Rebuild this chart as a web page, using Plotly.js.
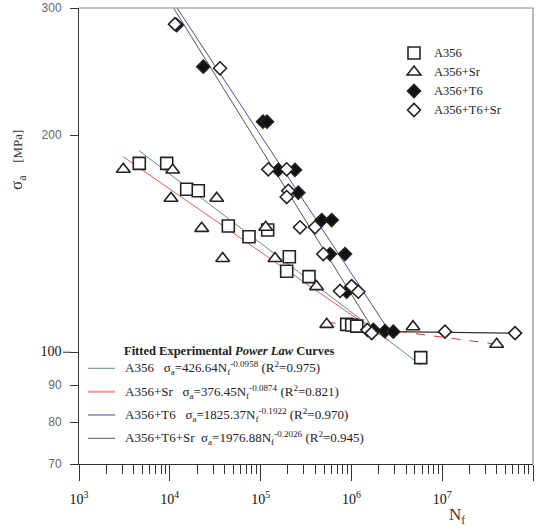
<!DOCTYPE html>
<html>
<head>
<meta charset="utf-8">
<script src="https://cdn.plot.ly/plotly-3.0.1.min.js"></script>
<style>html,body{margin:0;padding:0;background:#fff;}#chart{width:541px;height:532px;}</style>
</head>
<body>
<div id="chart"></div>
<script>
// ---- Data ----
// A356 (open squares)
const a356_N = [4612, 9244, 15350, 20600, 44100, 74520, 119700, 207100, 193800, 341200, 887700, 1008000, 1144000, 5800000];
const a356_S = [182.7, 182.7, 168.2, 167.4, 149.6, 144.6, 147.7, 135.6, 129.5, 127.3, 109.3, 109.1, 108.7, 98.3];
// A356+Sr (open triangles)
const sr_N = [3075, 10760, 10310, 32850, 22450, 113800, 38240, 144100, 412600, 534600, 4770000, 39800000];
const sr_S = [179.3, 178.9, 163.5, 163.5, 148.5, 149.0, 134.9, 134.9, 123.3, 109.3, 108.5, 102.6];
// A356+T6 (filled diamonds)
const t6_N = [11910, 23380, 106300, 117600, 156600, 239200, 260200, 470900, 606800, 581200, 850400, 887700, 1743000, 2344000, 2894000];
const t6_S = [284.1, 248.8, 208.7, 208.7, 178.9, 178.9, 166.4, 152.5, 152.5, 136.8, 136.8, 121.3, 107.4, 107.0, 106.8];
// A356+T6+Sr (open diamonds)
const t6sr_N = [11410, 35720, 121600, 193800, 201900, 193800, 271600, 397200, 490400, 748900, 1008000, 1191000, 1500000, 1673000, 10730000, 63400000];
const t6sr_S = [284.9, 247.5, 179.3, 179.3, 167.4, 164.1, 149.0, 149.0, 136.8, 121.6, 123.5, 121.3, 107.4, 106.3, 106.8, 106.3];

// Fitted power-law lines (end points)
const fitA356_N = [4612, 5800000];     const fitA356_S = [190.2, 96.0];
const fitSr_N = [3075, 2530000];       const fitSr_S = [186.6, 103.9];
const fitT6_N = [11000, 2660000];      const fitT6_S = [305.2, 106.6];
const fitT6Sr_N = [10000, 1600000];    const fitT6Sr_S = [305.9, 109.4];
// run-out lines
const runT6Sr_N = [2894000, 63400000]; const runT6Sr_S = [106.8, 106.3];
const runSr_N = [534600, 39800000];    const runSr_S = [110.1, 102.6];

const seriesNames = ["A356", "A356+Sr", "A356+T6", "A356+T6+Sr"];
const fitLabels = [
  "A356&nbsp;&nbsp;&nbsp;σ<sub>a</sub>=426.64N<sub>f</sub><sup>-0.0958</sup> (R<sup>2</sup>=0.975)",
  "A356+Sr&nbsp;&nbsp;&nbsp;σ<sub>a</sub>=376.45N<sub>f</sub><sup>-0.0874</sup> (R<sup>2</sup>=0.821)",
  "A356+T6&nbsp;&nbsp;&nbsp;σ<sub>a</sub>=1825.37N<sub>f</sub><sup>-0.1922</sup> (R<sup>2</sup>=0.970)",
  "A356+T6+Sr&nbsp;&nbsp;σ<sub>a</sub>=1976.88N<sub>f</sub><sup>-0.2026</sup> (R<sup>2</sup>=0.945)"
];
const yTickVals = [70, 80, 90, 100, 200, 300];
const yTickText = ["70", "80", "90", "<span style='font-family:Liberation Serif;color:#111;font-size:14px'>100</span>", "200", "300"];
const xTickVals = [1e3, 1e4, 1e5, 1e6, 1e7, 1e8];
const xTickText = ["10<sup>3</sup>", "10<sup>4</sup>", "10<sup>5</sup>", "10<sup>6</sup>", "10<sup>7</sup>", "10<sup>8</sup>"];

// ---- styles ----
const cGreen = "#5f8f70", cRed = "#ee5555", cBlue = "#4a4aa8", cGray = "#555555";
const serif = "Liberation Serif, Times New Roman, serif";

function line(N, S, color, width, dash) {
  return {x: N, y: S, type: "scatter", mode: "lines", showlegend: false, hoverinfo: "skip",
    line: {color: color, width: width, dash: dash || "solid"}};
}
function pts(N, S, name, symbol, fill, size) {
  return {x: N, y: S, type: "scatter", mode: "markers",
    name: "<span style='font-size:12.5px'>" + name + "</span>",
    marker: {symbol: symbol, size: size, color: fill, line: {color: "#222", width: 1.6}}};
}

const traces = [
  line(fitA356_N, fitA356_S, cGreen, 1),
  line(fitSr_N, fitSr_S, cRed, 1),
  line(fitT6_N, fitT6_S, cBlue, 1),
  line(fitT6Sr_N, fitT6Sr_S, cGray, 1),
  line(runT6Sr_N, runT6Sr_S, "#333", 1.2),
  line(runSr_N, runSr_S, "#e03030", 1, "dash"),
  pts(a356_N, a356_S, seriesNames[0], "square", "#fff", 12),
  pts(sr_N, sr_S, seriesNames[1], "triangle-up", "#fff", 12),
  pts(t6_N, t6_S, seriesNames[2], "diamond", "#111", 10),
  pts(t6sr_N, t6sr_S, seriesNames[3], "diamond", "#fff", 10)
];

const minorX = [];
for (let e = 3; e < 8; e++) for (let k = 2; k <= 9; k++) minorX.push(k * Math.pow(10, e));

const L = 79, T = 8, W = 454, H = 456;
const px = v => (v - L) / W, py = v => (T + H - v) / H;

const shapes = [
  {type: "line", xref: "paper", yref: "paper", x0: 0, x1: 1, y0: 1, y1: 1, line: {color: "#888", width: 1}},
  {type: "line", xref: "paper", yref: "paper", x0: 1, x1: 1, y0: 0, y1: 1, line: {color: "#777", width: 1}},
  // long tick at 100
  {type: "line", xref: "paper", yref: "y", x0: px(63), x1: px(71), y0: 100, y1: 100, line: {color: "#333", width: 1}}
];
const legColors = [cGreen, "#f4a0a0", cBlue, cGray];
const legW = [1, 2.2, 1, 1];
const rows = [368.3, 391.7, 415, 438.3];
const annotations = [
  {xref: "paper", yref: "paper", x: px(121.7), y: py(350.7), xanchor: "left", yanchor: "middle", showarrow: false,
   text: "<b>Fitted Experimental <i>Power Law</i> Curves</b>", font: {family: serif, size: 12.5, color: "#222"}},
  {xref: "paper", yref: "paper", x: px(18), y: py(160), xanchor: "center", yanchor: "middle", showarrow: false, textangle: -90,
   text: "σ<sub>a</sub>&nbsp;&nbsp;&nbsp;<span style='font-size:13px'>[MPa]</span>", font: {family: serif, size: 17, color: "#333"}},
  {xref: "paper", yref: "paper", x: px(457), y: py(516), xanchor: "center", yanchor: "middle", showarrow: false,
   text: "N<sub>f</sub>", font: {family: serif, size: 17, color: "#5a2a2a"}}
];
for (let i = 0; i < 4; i++) {
  shapes.push({type: "line", xref: "paper", yref: "paper", x0: px(88), x1: px(115), y0: py(rows[i]), y1: py(rows[i]),
    line: {color: legColors[i], width: legW[i]}});
  annotations.push({xref: "paper", yref: "paper", x: px(123), y: py(rows[i]), xanchor: "left", yanchor: "middle",
    showarrow: false, text: fitLabels[i], font: {family: serif, size: 13, color: "#222"}});
}

const layout = {
  width: 541, height: 532,
  margin: {l: L, r: 541 - L - W, t: T, b: 532 - T - H},
  paper_bgcolor: "#fff", plot_bgcolor: "#fff",
  xaxis: {type: "log", range: [3, 8], showgrid: false, zeroline: false, showline: true, linecolor: "#333", linewidth: 1,
    ticks: "outside", ticklen: 16, tickcolor: "#333", tickvals: xTickVals, ticktext: xTickText, ticklabelstandoff: 6,
    tickfont: {family: serif, size: 14, color: "#111"},
    minor: {tickvals: minorX, ticks: "outside", ticklen: 9, tickcolor: "#333", showgrid: false}},
  yaxis: {type: "log", range: [Math.log10(70), Math.log10(300)], showgrid: false, zeroline: false, showline: true,
    linecolor: "#333", linewidth: 1, ticks: "outside", ticklen: 8, tickcolor: "#333",
    tickvals: yTickVals, ticktext: yTickText, ticklabelstandoff: 6,
    tickfont: {family: "Liberation Sans, Arial, sans-serif", size: 12, color: "#666"}},
  showlegend: true,
  legend: {x: px(394), y: py(38.5), xanchor: "left", yanchor: "top", bgcolor: "rgba(0,0,0,0)", borderwidth: 0,
    font: {family: serif, size: 11, color: "#222"}, tracegroupgap: 0},
  shapes: shapes, annotations: annotations
};
Plotly.newPlot("chart", traces, layout, {displayModeBar: false, staticPlot: true});
</script>
</body>
</html>
